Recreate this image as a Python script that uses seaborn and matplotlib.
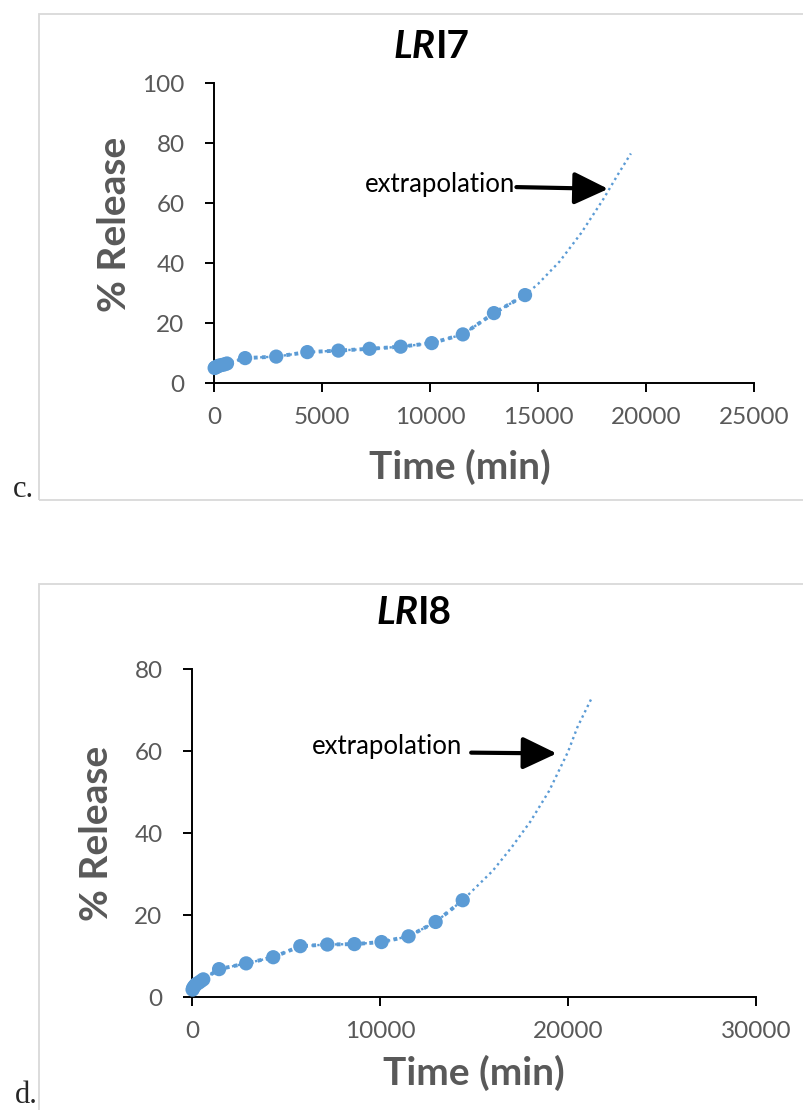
import numpy as np
import pandas as pd
import matplotlib
matplotlib.use("Agg")
import matplotlib.pyplot as plt
import seaborn as sns
from matplotlib.patches import Rectangle
from matplotlib.offsetbox import TextArea, HPacker, AnchoredOffsetbox

# ---------------- data ----------------
# Panel c: LRI7
c_time = [30, 60, 120, 180, 240, 360, 480, 600, 1440, 2880, 4320, 5760, 7200, 8640, 10080, 11520, 12960, 14400]
c_release = [5.0, 5.2, 5.4, 5.6, 5.8, 6.0, 6.2, 6.5, 8.3, 8.8, 10.3, 10.8, 11.4, 12.1, 13.3, 16.2, 23.3, 29.3]
c_extra_time = [14400, 15000, 16000, 17000, 18000, 18700, 19300]
c_extra_release = [29.3, 33.0, 40.5, 50.0, 61.0, 69.5, 76.5]

# Panel d: LRI8
d_time = [30, 60, 120, 180, 240, 360, 480, 600, 1440, 2880, 4320, 5760, 7200, 8640, 10080, 11520, 12960, 14400]
d_release = [1.8, 2.2, 2.6, 2.9, 3.2, 3.5, 3.9, 4.3, 6.8, 8.2, 9.7, 12.4, 12.8, 12.9, 13.4, 14.8, 18.3, 23.6]
d_extra_time = [14400, 15000, 16000, 17000, 18000, 19000, 20000, 20500, 21300]
d_extra_release = [23.6, 26.3, 30.8, 36.5, 42.8, 50.3, 59.8, 65.8, 73.3]

c_xticks = [0, 5000, 10000, 15000, 20000, 25000]
c_yticks = [0, 20, 40, 60, 80, 100]
d_xticks = [0, 10000, 20000, 30000]
d_yticks = [0, 20, 40, 60, 80]

# ---------------- style ----------------
sns.set_theme(style="white")
plt.rcParams["font.family"] = ["Lato", "DejaVu Sans"]

BLUE = "#5b9bd5"
GRAY = "#595959"
W, H = 804, 1110
fig = plt.figure(figsize=(W / 100, H / 100), dpi=100)

def fx(px):
    return px / W

def fy(py):
    return 1 - py / H

# outer frames (chart areas)
fig.patches.append(Rectangle((fx(39), fy(500)), fx(800), fy(14) - fy(500), transform=fig.transFigure,
                             fill=False, edgecolor="#d9d9d9", lw=1.3, zorder=0))
fig.patches.append(Rectangle((fx(39), fy(1130)), fx(800), fy(584) - fy(1130), transform=fig.transFigure,
                             fill=False, edgecolor="#d9d9d9", lw=1.3, zorder=0))

def panel(rect, t, r, et, er, xticks, yticks, xlim, ylim, title_num, title_pos,
          text_xy, arrow_tail, arrow_tip, ylab_x, ylab_y, xlab_x, xlab_y):
    ax = fig.add_axes(rect)
    df = pd.DataFrame({"t": t, "r": r})
    de = pd.DataFrame({"t": et, "r": er})
    trend = pd.concat([df, de.iloc[1:]], ignore_index=True)
    # trendline (thin dotted)
    sns.lineplot(data=trend, x="t", y="r", ax=ax, color=BLUE, lw=1.7, sort=False,
                 estimator=None)
    ax.lines[-1].set_dashes((1, 1.5))
    ax.lines[-1].set_clip_on(False)
    # data line (thicker dotted)
    sns.lineplot(data=df, x="t", y="r", ax=ax, color=BLUE, lw=2.8, sort=False,
                 estimator=None)
    ax.lines[-1].set_dashes((1, 1.1))
    ax.lines[-1].set_clip_on(False)
    sns.scatterplot(data=df, x="t", y="r", ax=ax, color=BLUE, s=105, edgecolor="none",
                    clip_on=False, zorder=5)
    ax.set_xlim(*xlim)
    ax.set_ylim(*ylim)
    ax.set_xticks(xticks)
    ax.set_yticks(yticks)
    ax.set_xticklabels([str(v) for v in xticks])
    ax.set_yticklabels([str(v) for v in yticks])
    for s in ["top", "right"]:
        ax.spines[s].set_visible(False)
    for s in ["left", "bottom"]:
        ax.spines[s].set_color("black")
        ax.spines[s].set_linewidth(1.4)
    ax.tick_params(axis="both", direction="out", length=6.2, width=1.4, color="black",
                   labelsize=17.5, labelcolor=GRAY, bottom=True, left=True)
    ax.tick_params(axis="y", pad=15)
    ax.tick_params(axis="x", pad=11)
    ax.set_xlabel("Time (min)", fontsize=28, fontweight="bold", color=GRAY)
    ax.set_ylabel("% Release", fontsize=28, fontweight="bold", color=GRAY)
    ax.xaxis.label.set_va("center")
    ax.yaxis.label.set_va("center")
    ax.xaxis.set_label_coords(xlab_x, xlab_y)
    ax.yaxis.set_label_coords(ylab_x, ylab_y)
    ax.grid(False)
    # annotation
    ax.text(text_xy[0], text_xy[1], "extrapolation", ha="right", va="center",
            fontsize=18.5, color="black")
    ax.annotate("", xy=arrow_tip, xytext=arrow_tail,
                arrowprops=dict(arrowstyle="-|>,head_length=1.05,head_width=0.5",
                                mutation_scale=20, lw=3, color="black",
                                shrinkA=0, shrinkB=0))
    # title (LR italic bold + number bold)
    ta1 = TextArea("LR", textprops=dict(fontsize=28, fontweight="bold", fontstyle="italic", color="black"))
    ta2 = TextArea("I" + title_num, textprops=dict(fontsize=28, fontweight="bold", color="black"))
    box = HPacker(children=[ta1, ta2], align="baseline", pad=0, sep=0)
    anch = AnchoredOffsetbox(loc="center", child=box, pad=0, borderpad=0, frameon=False,
                             bbox_to_anchor=(fx(title_pos[0]), fy(title_pos[1])),
                             bbox_transform=fig.transFigure)
    fig.add_artist(anch)
    return ax

# panel c axes: x 214..754, y 83..383
panel([fx(214), fy(383), fx(754) - fx(214), fy(83) - fy(383)],
      c_time, c_release, c_extra_time, c_extra_release, c_xticks, c_yticks,
      (0, 25000), (0, 100), "7", (432, 46),
      (13950, 66.2), (14000, 65.3), (18250, 64.7),
      -0.185, 0.53, 0.455, -0.28)

# panel d axes: x 192..756, y 669..997
panel([fx(192), fy(997), fx(756) - fx(192), fy(669) - fy(997)],
      d_time, d_release, d_extra_time, d_extra_release, d_xticks, d_yticks,
      (0, 30000), (0, 80), "8", (414, 613),
      (14350, 61.0), (14850, 59.6), (19400, 59.4),
      -0.17, 0.5, 0.5, -0.232)

fig.text(fx(13), fy(497), "c.", fontsize=22, family=["Liberation Serif", "DejaVu Serif"], va="baseline")
fig.text(fx(15), fy(1103), "d.", fontsize=22, family=["Liberation Serif", "DejaVu Serif"], va="baseline")

fig.savefig("out.png", dpi=100)
